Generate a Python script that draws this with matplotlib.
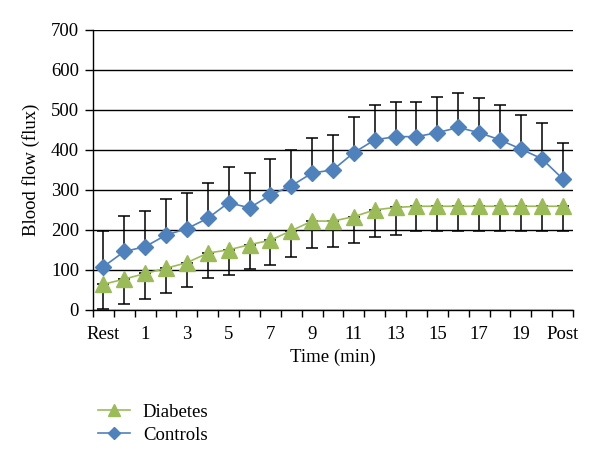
import matplotlib
matplotlib.use("Agg")
import matplotlib.pyplot as plt
import numpy as np

plt.rcParams['font.family'] = ['Liberation Serif', 'DejaVu Serif']

# categories: Rest, minutes 0..20, Post
categories = ['Rest'] + [str(m) for m in range(0, 21)] + ['Post']

controls = [108, 146, 158, 187, 203, 229, 268, 255, 287, 310, 342, 350, 393,
            425, 433, 433, 443, 456, 443, 425, 402, 378, 328]
controls_upper = [197, 234, 247, 276, 293, 318, 356, 343, 376, 399, 430, 438, 481,
                  513, 520, 520, 531, 543, 529, 512, 488, 466, 416]

diabetes = [64, 77, 91, 104, 118, 142, 150, 163, 174, 198, 222, 222, 233,
            250, 256, 259, 259, 259, 259, 259, 259, 259, 259]
diabetes_lower = [1, 14, 28, 43, 56, 79, 86, 102, 111, 133, 154, 156, 167,
                  183, 188, 196, 196, 196, 196, 196, 196, 196, 196]

blue = '#4F81BD'
green = '#9BBB59'

x = np.arange(len(categories))
controls = np.array(controls)
diabetes = np.array(diabetes)

fig = plt.figure(figsize=(6, 4.66), dpi=100)
ax = fig.add_axes([0.155, 0.335, 0.8, 0.601])

# error bars (one-sided)
ax.errorbar(x, controls, yerr=[np.zeros(len(x)), np.array(controls_upper) - controls],
            fmt='none', ecolor='black', elinewidth=1.1, capsize=4, capthick=1.1, zorder=2)
ax.errorbar(x, diabetes, yerr=[diabetes - np.array(diabetes_lower), np.zeros(len(x))],
            fmt='none', ecolor='black', elinewidth=1.1, capsize=4, capthick=1.1, zorder=2)

ax.plot(x, diabetes, color=green, lw=1.2, marker='^', markersize=11.5,
        markeredgecolor=green, label='Diabetes', zorder=3)
ax.plot(x, controls, color=blue, lw=1.2, marker='D', markersize=8.5,
        markeredgecolor=blue, label='Controls', zorder=4)

ax.set_ylim(0, 700)
ax.set_yticks(np.arange(0, 701, 100))
ax.set_xlim(-0.5, len(x) - 0.5)
ax.yaxis.grid(True, color='black', lw=1)
ax.set_axisbelow(True)
for s in ['top', 'right']:
    ax.spines[s].set_visible(False)
ax.spines['left'].set_linewidth(1)
ax.spines['bottom'].set_linewidth(1)

lbls = ['Rest'] + [categories[i] for i in range(2, 21, 2)] + ['Post']
ax.set_xticks(x[::2])
ax.set_xticklabels(lbls)
ax.set_xticks(np.arange(-0.5, len(x), 1), minor=True)
ax.tick_params(axis='x', which='major', length=0, pad=11.5, labelsize=13.5)
ax.tick_params(axis='x', which='minor', length=5, width=1, direction='out')
ax.tick_params(axis='y', length=6, width=1, pad=4, labelsize=13.5)

ax.set_ylabel('Blood flow (flux)', fontsize=13.5, labelpad=8)
ax.set_xlabel('Time (min)', fontsize=13.5, labelpad=4.5)

fig.legend(loc='upper left', bbox_to_anchor=(0.135, 0.17), frameon=False,
           fontsize=13.5, handlelength=1.7, handletextpad=0.7, labelspacing=0.32,
           markerscale=0.75)

fig.savefig('out.png', dpi=100)
